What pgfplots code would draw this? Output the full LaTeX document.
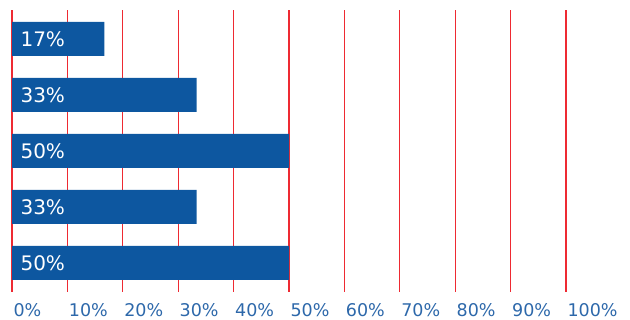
\documentclass[border=0pt]{standalone}
\usepackage{pgfplots}
\pgfplotsset{compat=1.18}
\usepackage{pgfplotstable}
\usepackage{fontspec}
\setmainfont{DejaVu Sans}

\definecolor{barblue}{HTML}{0D57A0}
\definecolor{ticklabel}{HTML}{2D68AA}
\definecolor{gridred}{HTML}{EE2A32}

% shares per row, top row first is y=4
\pgfplotstableread{
y  v
0  50
1  33.33
2  50
3  33.33
4  16.67
}\shares

\begin{document}
\begin{tikzpicture}
\begin{axis}[
  set layers=standard,
  axis on top=false,
  at={(12pt,28pt)}, anchor=south west,
  scale only axis, width=554pt, height=282pt,
  xmin=0, xmax=100, ymin=-0.518, ymax=4.518,
  /pgf/number format/assume math mode=true,
  xtick={0,10,...,100},
  xticklabel={\pgfmathprintnumber{\tick}\%},
  xticklabel style={font=\fontsize{17.5}{20}\selectfont, text=ticklabel,
    anchor=north west, xshift=-2pt, yshift=-8pt},
  ytick=\empty,
  axis line style={draw=none},
  xtick style={draw=none},
  major tick length=0pt,
  xmajorgrids,
  major grid style={draw=gridred, line width=1.1pt},
]
\addplot[xbar, bar width=34pt, fill=barblue, draw=none] table[x=v, y=y] {\shares};
\addplot[draw=none, mark=none,
  point meta={\thisrow{v}},
  nodes near coords={\pgfmathprintnumber[fixed,precision=0,assume math mode=true]{\pgfplotspointmeta}\%},
  every node near coord/.style={anchor=west, xshift=5pt, text=white,
    font=\fontsize{20}{22}\selectfont}]
  table[x expr=0, y=y] {\shares};
\end{axis}
\pgfresetboundingbox
\path[use as bounding box] (0,0) rectangle (630pt,320pt);
\end{tikzpicture}
\end{document}
